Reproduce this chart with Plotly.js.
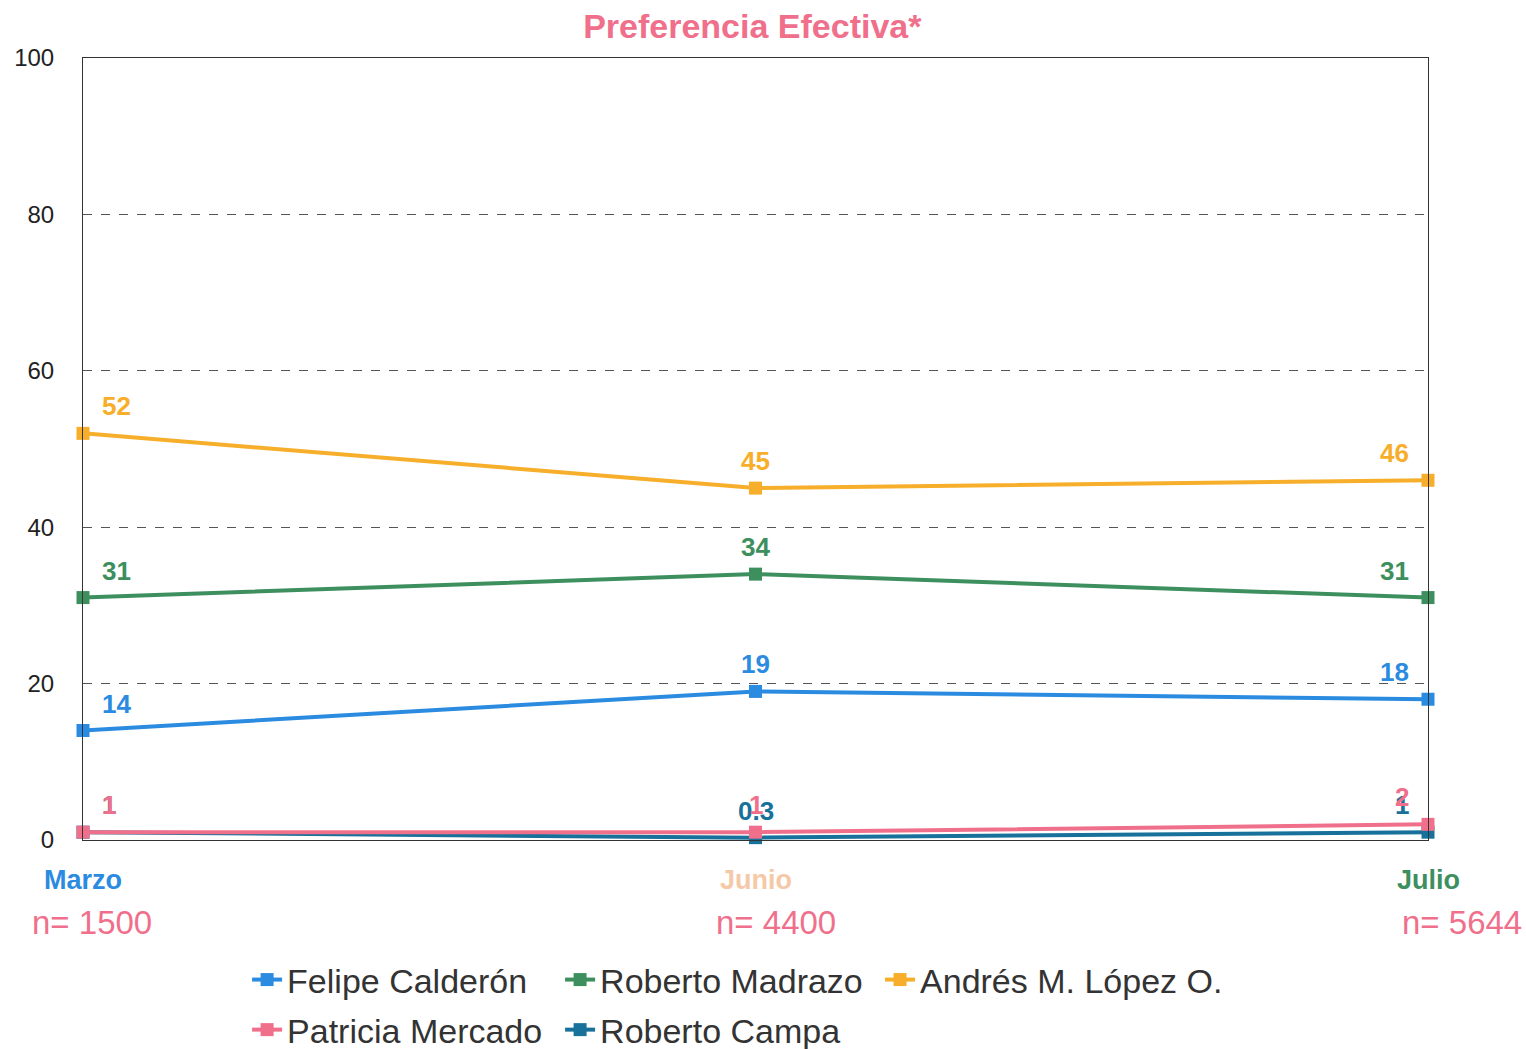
<!DOCTYPE html>
<html>
<head>
<meta charset="utf-8">
<script src="https://cdn.plot.ly/plotly-3.0.1.min.js"></script>
<style>html,body{margin:0;padding:0;background:#fff;}#chart{width:1526px;height:1049px;}</style>
</head>
<body>
<div id="chart"></div>
<script>
var months = ["Marzo", "Junio", "Julio"];
var sampleSizes = ["n= 1500", "n= 4400", "n= 5644"];
var monthColors = ["#2b8be0", "#f5c9a8", "#3d8f5e"];
var seriesNames = ["Felipe Calderón", "Roberto Madrazo", "Andrés M. López O.", "Patricia Mercado", "Roberto Campa"];
var calderon = [14, 19, 18];
var madrazo = [31, 34, 31];
var lopez = [52, 45, 46];
var mercado = [1, 1, 2];
var campa = [1, 0.3, 1];
var seriesColors = ["#2b8be0", "#3d8f5e", "#f7ae2a", "#f0708c", "#17719a"];
var yTicks = [0, 20, 40, 60, 80, 100];

var seriesValues = [calderon, madrazo, lopez, mercado, campa];
var FONT = "Liberation Sans, Arial, sans-serif";
var xIdx = [0, 1, 2];
var legendOf = ["legend", "legend", "legend3", "legend2", "legend2"];

// drawing order: Campa below Mercado
var drawOrder = [0, 1, 2, 4, 3];
var traces = drawOrder.map(function (i) {
  return {
    type: "scatter",
    mode: "lines+markers",
    name: seriesNames[i],
    x: xIdx,
    y: seriesValues[i],
    line: {color: seriesColors[i], width: 4},
    marker: {symbol: "square", size: 13, color: seriesColors[i]},
    legend: legendOf[i],
    legendrank: i,
    cliponaxis: false,
    hoverinfo: "name+y"
  };
});

var annotations = [];
drawOrder.forEach(function (i) {
  var vals = seriesValues[i];
  vals.forEach(function (v, j) {
    var anchor = j === 0 ? "left" : (j === 2 ? "right" : "center");
    var xs = j === 0 ? 17 : (j === 2 ? -17 : 0);
    annotations.push({
      x: j, y: v, xref: "x", yref: "y",
      text: String(v), showarrow: false,
      xanchor: anchor, yanchor: "middle",
      xshift: xs, yshift: 27,
      font: {family: FONT, size: 26, color: seriesColors[i], weight: "bold"}
    });
  });
});
var nShift = [-53, -42, -28];
months.forEach(function (m, j) {
  annotations.push({
    x: j, y: 0, xref: "x", yref: "paper",
    text: "<b>" + m + "</b>", showarrow: false,
    xanchor: "center", yanchor: "middle", yshift: -40,
    font: {family: FONT, size: 27, color: monthColors[j]}
  });
  annotations.push({
    x: j, y: 0, xref: "x", yref: "paper",
    text: sampleSizes[j], showarrow: false,
    xanchor: "left", yanchor: "middle", yshift: -82, xshift: nShift[j],
    font: {family: FONT, size: 33, color: "#f0708c"}
  });
});

var legendBase = {
  orientation: "h", x: 0.122, xref: "paper", xanchor: "left",
  yanchor: "middle", yref: "paper",
  entrywidth: 268, entrywidthmode: "pixels",
  font: {family: FONT, size: 34, color: "#333"},
  bgcolor: "rgba(0,0,0,0)", itemwidth: 30, tracegroupgap: 0
};
var legend1 = Object.assign({}, legendBase, {y: -0.179});
var legend2 = Object.assign({}, legendBase, {y: -0.243});
var legend3 = Object.assign({}, legendBase, {y: -0.179, x: 0.5926, entrywidth: 400});

var layout = {
  width: 1526, height: 1049,
  margin: {l: 83, r: 98, t: 58, b: 209, autoexpand: false},
  paper_bgcolor: "#ffffff", plot_bgcolor: "#ffffff",
  font: {family: FONT, color: "#222"},
  title: {
    text: "<b>Preferencia Efectiva*</b>",
    font: {family: FONT, size: 34, color: "#f0708c"},
    x: 0.493, xanchor: "center", y: 0.975, yanchor: "middle"
  },
  xaxis: {
    range: [0, 2], showticklabels: false, showgrid: false, zeroline: false,
    showline: true, linecolor: "#333", linewidth: 1, mirror: true, fixedrange: true
  },
  yaxis: {
    range: [0, 100], tickvals: yTicks, ticktext: yTicks.map(String),
    showgrid: true, gridcolor: "#555", griddash: "dash", gridwidth: 1,
    zeroline: false, showline: true, linecolor: "#333", linewidth: 1, mirror: true,
    ticks: "outside", ticklen: 23, tickcolor: "rgba(0,0,0,0)",
    tickfont: {family: FONT, size: 24, color: "#222"}, fixedrange: true
  },
  showlegend: true,
  legend: legend1,
  legend2: legend2,
  legend3: legend3,
  annotations: annotations
};

Plotly.newPlot("chart", traces, layout, {displayModeBar: false, staticPlot: true});
</script>
</body>
</html>
